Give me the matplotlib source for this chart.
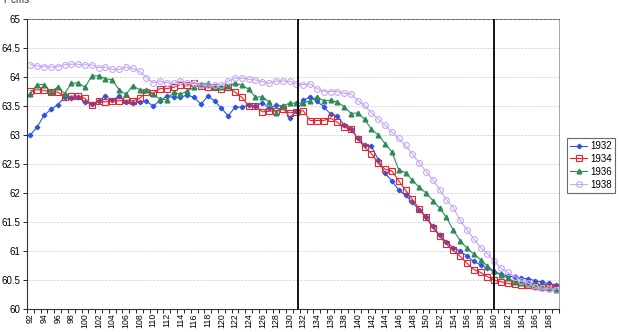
import numpy as np
from matplotlib import pyplot as plt
from matplotlib.ticker import MultipleLocator, FixedLocator

plt.rcParams['font.family'] = ['Liberation Sans', 'DejaVu Sans']

x = list(range(92, 170))

# series values
y1932 = [63.00, 63.14, 63.34, 63.44, 63.52, 63.65, 63.64, 63.65, 63.57, 63.53,
         63.59, 63.67, 63.60, 63.67, 63.57, 63.55, 63.57, 63.58, 63.50, 63.59,
         63.67, 63.65, 63.65, 63.69, 63.65, 63.53, 63.67, 63.59, 63.46, 63.33,
         63.48, 63.48, 63.52, 63.50, 63.56, 63.46, 63.51, 63.50, 63.30, 63.41,
         63.60, 63.65, 63.58, 63.49, 63.36, 63.33, 63.17, 63.11, 62.94, 62.83,
         62.81, 62.57, 62.34, 62.21, 62.05, 61.96, 61.84, 61.71, 61.58, 61.43,
         61.27, 61.15, 61.06, 61.00, 60.91, 60.82, 60.76, 60.70, 60.64, 60.60,
         60.57, 60.55, 60.53, 60.52, 60.49, 60.46, 60.44, 60.41]
y1934 = [63.76, 63.78, 63.77, 63.74, 63.74, 63.66, 63.67, 63.67, 63.63, 63.52,
         63.59, 63.57, 63.59, 63.59, 63.60, 63.59, 63.63, 63.75, 63.72, 63.80,
         63.80, 63.82, 63.87, 63.86, 63.90, 63.85, 63.82, 63.82, 63.80, 63.82,
         63.74, 63.65, 63.50, 63.50, 63.40, 63.41, 63.42, 63.44, 63.38, 63.40,
         63.42, 63.25, 63.25, 63.25, 63.29, 63.22, 63.13, 63.11, 62.93, 62.79,
         62.68, 62.51, 62.41, 62.38, 62.21, 62.05, 61.89, 61.73, 61.58, 61.40,
         61.26, 61.12, 61.01, 60.91, 60.79, 60.68, 60.63, 60.56, 60.50, 60.47,
         60.44, 60.43, 60.42, 60.41, 60.39, 60.38, 60.38, 60.38]
y1936 = [63.71, 63.87, 63.87, 63.74, 63.83, 63.71, 63.89, 63.90, 63.82, 64.02,
         64.02, 63.97, 63.95, 63.78, 63.70, 63.85, 63.78, 63.77, 63.70, 63.62,
         63.61, 63.74, 63.70, 63.76, 63.82, 63.88, 63.89, 63.82, 63.82, 63.85,
         63.89, 63.86, 63.79, 63.65, 63.66, 63.57, 63.38, 63.50, 63.55, 63.55,
         63.55, 63.59, 63.66, 63.59, 63.60, 63.57, 63.49, 63.37, 63.38, 63.27,
         63.10, 63.00, 62.85, 62.71, 62.40, 62.35, 62.22, 62.10, 62.00, 61.87,
         61.74, 61.58, 61.36, 61.18, 61.05, 60.95, 60.85, 60.74, 60.65, 60.59,
         60.53, 60.47, 60.45, 60.43, 60.41, 60.40, 60.37, 60.33]
y1938 = [64.21, 64.19, 64.18, 64.17, 64.18, 64.21, 64.22, 64.22, 64.21, 64.21,
         64.16, 64.17, 64.13, 64.13, 64.17, 64.15, 64.10, 63.99, 63.90, 63.93,
         63.90, 63.89, 63.93, 63.89, 63.90, 63.86, 63.86, 63.86, 63.86, 63.93,
         63.98, 63.98, 63.96, 63.95, 63.92, 63.89, 63.93, 63.93, 63.93, 63.88,
         63.87, 63.88, 63.80, 63.75, 63.75, 63.75, 63.72, 63.71, 63.59, 63.51,
         63.38, 63.27, 63.17, 63.05, 62.94, 62.82, 62.67, 62.52, 62.37, 62.23,
         62.06, 61.88, 61.75, 61.53, 61.37, 61.21, 61.06, 60.95, 60.83, 60.70,
         60.63, 60.56, 60.49, 60.45, 60.38, 60.36, 60.35, 60.33]

markers = [131.2, 160]

fig = plt.figure(figsize=(6.19, 3.32), dpi=100)
ax = fig.add_axes([27/619, 1 - 309/332, 532/619, 290/332])

ax.plot(x, y1932, color='#2f55e0', marker='D', markersize=2.3, lw=0.8, label='1932')
ax.plot(x, y1934, color='#e8242c', marker='s', markersize=4.2, mfc='none', mew=0.8, lw=0.8, label='1934')
ax.plot(x, y1936, color='#2e8b57', marker='^', markersize=3.4, lw=0.8, label='1936')
ax.plot(x, y1938, color='#c4a8f2', marker='o', markersize=4.2, mfc='none', mew=0.8, lw=0.8, label='1938')

for m in markers:
    ax.axvline(m, color='black', lw=1.3, zorder=5)

ax.set_xlim(91.5, 169.5)
ax.set_ylim(60, 65)
ax.yaxis.set_major_locator(MultipleLocator(0.5))
ax.yaxis.set_major_formatter(plt.FuncFormatter(lambda v, p: f'{v:g}'))
ax.set_xticks(range(92, 169, 2))
ax.set_xticklabels([str(v) for v in range(92, 169, 2)], rotation=90)
ax.xaxis.set_minor_locator(FixedLocator(np.arange(91.5, 170, 1)))
ax.tick_params(axis='x', which='major', length=0, labelsize=6.3, pad=3)
ax.tick_params(axis='x', which='minor', length=3, width=0.6, direction='out')
ax.tick_params(axis='y', length=3, width=0.6, labelsize=7, pad=2)

ax.grid(axis='y', color='#cccccc', ls='--', lw=0.5)
ax.set_axisbelow(True)
ax.spines['left'].set_color('#333333')
ax.spines['bottom'].set_color('#333333')
ax.spines['top'].set_color('#555555')
ax.spines['top'].set_linestyle('--')
ax.spines['top'].set_linewidth(0.6)
ax.spines['right'].set_color('#999999')
ax.spines['right'].set_linewidth(0.6)

leg = fig.legend(loc='upper left', bbox_to_anchor=(567/619, 1 - 138/332), fontsize=7,
                 frameon=True, fancybox=False, edgecolor='#444444', borderaxespad=0,
                 handlelength=1.8, borderpad=0.3, labelspacing=0.3, handletextpad=0.3)
leg.get_frame().set_linewidth(0.8)

fig.text(0.004, 1 - 3/332, 'Y cms', fontsize=7, va='baseline', color='#333333')

fig.savefig('out.png', dpi=100)
